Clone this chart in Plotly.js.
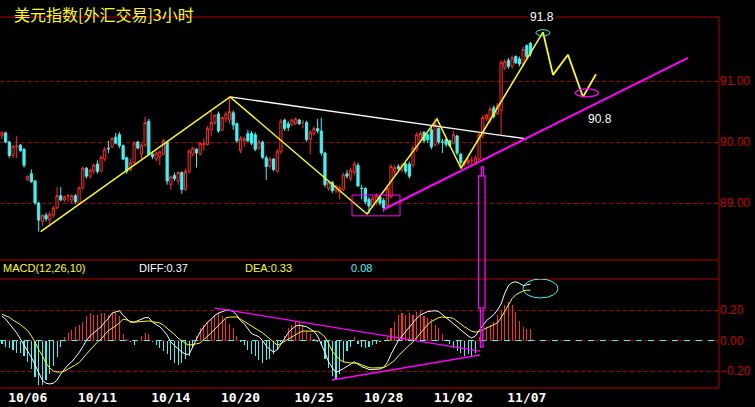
<!DOCTYPE html>
<html><head><meta charset="utf-8">
<script src="https://cdn.plot.ly/plotly-3.0.1.min.js"></script>
<style>html,body{margin:0;padding:0;background:#000;overflow:hidden}#chart{width:755px;height:407px}</style>
</head><body><div id="chart"></div>
<script>
// x-axis date labels (bar index where each label sits)
const tickIdx = [7, 26, 46, 65, 85, 104, 123, 143];
const tickLabels = ['10/06','10/11','10/14','10/20','10/25','10/28','11/02','11/07'];

// 3-hour candles
const open = [90.10,90.15,90.00,89.78,89.92,89.95,89.88,89.38,89.48,89.36,89.00,88.70,88.80,88.72,88.80,88.92,89.12,89.05,89.12,89.05,89.12,88.98,89.25,89.57,89.44,89.52,89.64,89.52,89.72,89.90,89.92,90.08,90.12,89.94,89.74,89.55,89.66,90.00,89.80,89.95,90.34,89.80,89.72,89.76,89.80,90.00,89.30,89.45,89.36,89.50,89.22,89.52,89.80,89.88,89.80,89.96,89.96,90.20,90.32,90.46,90.20,90.38,90.36,90.48,90.30,89.86,90.02,90.14,90.14,90.12,89.90,90.00,89.74,89.60,89.72,89.52,89.84,90.36,90.30,90.28,90.30,90.36,90.32,90.32,90.04,90.14,90.22,90.18,89.82,89.24,89.34,89.20,89.18,89.22,89.48,89.40,89.50,89.62,89.24,89.24,89.06,88.95,89.00,89.10,89.04,88.96,89.10,89.52,89.60,89.54,89.64,89.64,89.62,89.88,90.02,90.16,90.12,90.20,89.96,90.22,90.00,90.04,90.02,89.98,90.10,89.80,89.64,89.66,89.70,89.66,89.72,90.10,90.38,90.36,90.56,90.46,90.52,91.22,91.34,91.24,91.40,91.36,91.28,91.58,91.62];
const high = [90.18,90.17,90.02,89.95,90.10,89.97,89.90,89.45,89.55,89.38,89.02,88.82,88.84,88.86,88.95,89.26,89.26,89.12,89.15,89.14,89.15,89.27,89.60,89.59,89.56,89.65,89.70,89.78,89.92,90.02,90.08,90.15,90.16,89.96,89.76,89.72,90.02,90.02,89.98,90.42,90.38,89.85,89.85,89.86,90.05,90.02,89.45,89.50,89.52,89.52,89.56,89.88,89.92,89.90,90.00,90.06,90.26,90.50,90.45,90.50,90.42,90.50,90.74,90.52,90.32,90.10,90.08,90.20,90.18,90.16,90.04,90.02,89.78,89.76,89.74,89.88,90.38,90.38,90.34,90.38,90.40,90.38,90.36,90.35,90.20,90.26,90.38,90.40,89.84,89.38,89.36,89.30,89.28,89.50,89.54,89.58,89.68,89.66,89.30,89.26,89.10,89.12,89.16,89.14,89.08,89.28,89.64,89.62,89.64,89.66,89.66,89.68,89.94,90.16,90.18,90.18,90.14,90.26,90.38,90.24,90.05,90.06,90.04,90.18,90.12,89.82,89.70,89.74,89.76,89.78,90.16,90.44,90.46,90.58,90.60,90.64,91.34,91.36,91.38,91.42,91.42,91.40,91.56,91.60,91.64];
const low = [90.05,89.98,89.74,89.74,89.74,89.84,89.58,89.36,89.33,88.97,88.53,88.62,88.70,88.65,88.76,88.90,89.03,89.02,89.02,89.00,88.98,88.97,89.22,89.40,89.40,89.48,89.48,89.50,89.68,89.82,89.90,89.96,89.90,89.70,89.48,89.52,89.62,89.88,89.72,89.92,89.78,89.72,89.68,89.62,89.78,89.30,89.22,89.36,89.30,89.15,89.20,89.48,89.76,89.58,89.78,89.86,89.94,90.10,90.28,90.15,90.18,90.32,90.30,90.20,89.98,89.82,89.92,90.00,89.95,89.85,89.86,89.72,89.38,89.56,89.52,89.50,89.80,90.18,90.18,90.26,90.28,90.28,90.22,90.00,89.80,90.10,90.14,89.78,89.26,89.20,89.16,89.16,89.06,89.20,89.40,89.36,89.45,89.26,89.06,88.98,88.82,88.92,88.96,88.96,88.86,88.94,89.08,89.46,89.54,89.50,89.48,89.40,89.58,89.84,89.98,89.98,89.98,89.88,89.92,89.96,89.82,89.92,89.92,89.96,89.78,89.57,89.60,89.62,89.60,89.62,89.70,90.06,90.34,90.30,90.38,90.44,90.10,91.18,91.20,91.20,91.28,91.24,91.24,91.36,91.40];
const close = [90.15,90.00,89.78,89.93,89.93,89.86,89.62,89.44,89.35,89.00,88.72,88.80,88.74,88.82,88.92,89.12,89.05,89.10,89.12,89.12,89.02,89.25,89.57,89.44,89.54,89.62,89.52,89.75,89.88,89.89,90.06,89.98,89.94,89.72,89.52,89.66,89.98,89.90,89.95,90.32,89.80,89.76,89.82,89.84,90.02,89.36,89.43,89.40,89.50,89.22,89.52,89.85,89.90,89.82,89.98,89.97,90.22,90.32,90.44,90.18,90.40,90.46,90.50,90.28,90.02,90.06,90.06,90.02,89.98,89.88,90.00,89.75,89.60,89.72,89.55,89.85,90.34,90.22,90.24,90.36,90.38,90.30,90.32,90.04,90.16,90.22,90.18,89.82,89.30,89.34,89.20,89.28,89.25,89.46,89.44,89.54,89.64,89.28,89.24,89.02,88.95,89.08,89.12,89.00,88.92,89.24,89.60,89.58,89.56,89.62,89.52,89.44,89.90,90.12,90.14,90.02,90.04,89.92,90.30,90.00,90.00,89.96,89.94,90.12,89.82,89.66,89.68,89.70,89.70,89.74,90.12,90.40,90.44,90.54,90.42,90.60,91.30,91.32,91.24,91.38,91.30,91.28,91.52,91.40,91.45];

// MACD(12,26,10) panel values
const diff = [0.16,0.14,0.11,0.08,0.05,0.01,-0.03,-0.07,-0.11,-0.16,-0.21,-0.26,-0.28,-0.285,-0.28,-0.26,-0.22,-0.19,-0.16,-0.14,-0.11,-0.08,-0.04,0.00,0.03,0.05,0.07,0.09,0.12,0.145,0.18,0.19,0.195,0.165,0.14,0.12,0.12,0.13,0.135,0.15,0.15,0.12,0.105,0.09,0.065,0.035,-0.01,-0.035,-0.055,-0.075,-0.09,-0.09,-0.045,0.01,0.056,0.09,0.12,0.14,0.165,0.18,0.19,0.198,0.20,0.19,0.165,0.13,0.11,0.08,0.045,0.035,0.025,0.00,-0.035,-0.06,-0.075,-0.06,-0.025,0.01,0.05,0.075,0.095,0.10,0.095,0.09,0.075,0.06,0.03,-0.02,-0.08,-0.14,-0.18,-0.21,-0.20,-0.185,-0.17,-0.155,-0.14,-0.155,-0.172,-0.18,-0.19,-0.19,-0.19,-0.187,-0.175,-0.145,-0.09,-0.04,0.00,0.03,0.06,0.085,0.115,0.145,0.167,0.18,0.19,0.193,0.195,0.19,0.17,0.15,0.13,0.11,0.09,0.07,0.045,0.03,0.016,0.03,0.065,0.10,0.13,0.15,0.17,0.20,0.24,0.31,0.36,0.38,0.385,0.375,0.36,0.365,0.37];
const dea = [0.172,0.163,0.152,0.134,0.12,0.105,0.085,0.065,0.03,-0.01,-0.06,-0.10,-0.15,-0.18,-0.20,-0.207,-0.207,-0.20,-0.187,-0.175,-0.16,-0.145,-0.12,-0.09,-0.062,-0.035,-0.01,0.01,0.04,0.065,0.08,0.095,0.115,0.14,0.135,0.125,0.12,0.122,0.125,0.127,0.128,0.124,0.12,0.115,0.10,0.08,0.065,0.04,0.015,-0.005,-0.02,-0.03,-0.028,-0.022,-0.016,0.005,0.03,0.05,0.075,0.10,0.125,0.148,0.154,0.154,0.154,0.14,0.125,0.11,0.10,0.08,0.065,0.05,0.03,0.01,-0.01,-0.03,-0.02,-0.005,0.01,0.025,0.04,0.052,0.062,0.062,0.062,0.062,0.06,0.045,0.023,-0.02,-0.07,-0.10,-0.125,-0.14,-0.145,-0.147,-0.148,-0.15,-0.16,-0.17,-0.178,-0.18,-0.18,-0.18,-0.178,-0.165,-0.15,-0.13,-0.10,-0.075,-0.05,-0.03,-0.01,0.02,0.05,0.08,0.105,0.125,0.14,0.15,0.154,0.153,0.15,0.145,0.125,0.105,0.09,0.075,0.06,0.055,0.06,0.07,0.08,0.09,0.10,0.115,0.15,0.19,0.23,0.275,0.30,0.315,0.325,0.33,0.33];
const macd = [-0.02,-0.04,-0.05,-0.06,-0.08,-0.08,-0.10,-0.14,-0.19,-0.24,-0.29,-0.29,-0.26,-0.22,-0.17,-0.11,-0.04,0.02,0.05,0.07,0.09,0.10,0.12,0.16,0.18,0.17,0.17,0.18,0.18,0.17,0.18,0.18,0.16,0.04,0.01,-0.01,-0.03,0.00,0.03,0.05,0.04,-0.01,-0.03,-0.05,-0.07,-0.09,-0.13,-0.15,-0.16,-0.15,-0.12,-0.10,-0.05,0.03,0.08,0.10,0.12,0.14,0.17,0.18,0.16,0.14,0.11,0.08,0.03,-0.01,-0.03,-0.06,-0.09,-0.10,-0.13,-0.15,-0.13,-0.12,-0.09,-0.06,-0.01,0.03,0.08,0.10,0.13,0.12,0.10,0.06,0.04,0.01,-0.01,-0.03,-0.12,-0.18,-0.23,-0.25,-0.22,-0.14,-0.07,-0.04,0.02,-0.02,-0.04,-0.05,-0.04,-0.03,-0.02,-0.01,0.00,0.02,0.08,0.12,0.17,0.18,0.17,0.18,0.17,0.19,0.20,0.16,0.15,0.14,0.10,0.08,0.04,0.01,-0.02,-0.05,-0.07,-0.08,-0.10,-0.09,-0.10,-0.08,0.02,0.06,0.09,0.10,0.12,0.17,0.20,0.23,0.25,0.23,0.19,0.13,0.09,0.075,0.075];

// hand-drawn analysis lines (bar index, price / MACD value)
const zigIdx = [10.54, 62.13, 99.46, 118.53, 125.07, 147.41];
const zigPrice = [88.53, 90.74, 88.82, 90.38, 89.57, 91.80];
const projIdx = [147.41, 150.14, 154.22, 158.31, 161.85];
const projPrice = [91.80, 91.10, 91.43, 90.74, 91.11];
const resIdx = [62.13, 143.05];
const resPrice = [90.74, 90.05];
const supIdx = [103.81, 186.92];
const supPrice = [88.89, 91.38];
const macdUpIdx = [58.04, 130.25];
const macdUpVal = [0.213, -0.069];
const macdLoIdx = [89.92, 130.25];
const macdLoVal = [-0.259, -0.095];
const peakLabel = '91.8', targetLabel = '90.8';

const idx = close.map((_, i) => i);
const RED = '#ff2a2a', CYAN = '#3cf5f5', YEL = '#ffff00', MAG = '#ff00ff';
const GRID = '#a80000', FRAME = '#b40000', TXT = '#c80000';

const traces = [
  {type:'bar', x: idx, y: macd, xaxis:'x', yaxis:'y2', width:0.3,
   marker:{color: macd.map(v => v >= 0 ? RED : CYAN), line:{width:0}}, hoverinfo:'skip'},
  {type:'scatter', mode:'lines', x: idx, y: diff, xaxis:'x', yaxis:'y2', line:{color:'#ffffff', width:1}, hoverinfo:'skip'},
  {type:'scatter', mode:'lines', x: idx, y: dea, xaxis:'x', yaxis:'y2', line:{color:YEL, width:1}, hoverinfo:'skip'},
  {type:'scatter', mode:'lines', x: macdUpIdx, y: macdUpVal, xaxis:'x', yaxis:'y2', line:{color:MAG, width:1.3}, hoverinfo:'skip'},
  {type:'scatter', mode:'lines', x: macdLoIdx, y: macdLoVal, xaxis:'x', yaxis:'y2', line:{color:MAG, width:1.3}, hoverinfo:'skip'},
  {type:'candlestick', x: idx, open, high, low, close, xaxis:'x', yaxis:'y',
   increasing:{line:{color:RED, width:1}, fillcolor:'#000000'},
   decreasing:{line:{color:CYAN, width:1}, fillcolor:CYAN},
   whiskerwidth:0, hoverinfo:'skip'},
  {type:'scatter', mode:'lines', x: resIdx, y: resPrice, xaxis:'x', yaxis:'y', line:{color:'#ffffff', width:1.3}, hoverinfo:'skip'},
  {type:'scatter', mode:'lines', x: supIdx, y: supPrice, xaxis:'x', yaxis:'y', line:{color:MAG, width:2}, hoverinfo:'skip'},
  {type:'scatter', mode:'lines', x: zigIdx, y: zigPrice, xaxis:'x', yaxis:'y', line:{color:YEL, width:1.5}, hoverinfo:'skip'},
  {type:'scatter', mode:'lines', x: projIdx, y: projPrice, xaxis:'x', yaxis:'y', line:{color:YEL, width:1.8}, hoverinfo:'skip'}
];

const axFont = {family:'Liberation Sans, Arial, sans-serif', size:12, color:TXT};
const layout = {
  width:755, height:407, paper_bgcolor:'#000', plot_bgcolor:'#000',
  margin:{l:0, r:36, t:17, b:19}, showlegend:false, bargap:0, boxgap:0.15,
  xaxis:{range:[-0.545, 195.37], anchor:'y2', showgrid:false, zeroline:false, showline:false,
    tickvals: tickIdx, ticktext: tickLabels, ticks:'',
    tickfont:{family:'DejaVu Sans Mono, monospace', size:13, color:'#ffffff', weight:'bold'},
    rangeslider:{visible:false}, fixedrange:true},
  yaxis:{domain:[0.345, 1], range:[88.066, 92.049], side:'right', anchor:'x',
    tickvals:[89, 90, 91], tickformat:'.2f', ticks:'', tickfont:axFont,
    showgrid:true, gridcolor:GRID, griddash:'4px,3px', gridwidth:1, zeroline:false, showline:false, fixedrange:true},
  yaxis2:{domain:[0, 0.2938], range:[-0.3115, 0.4033], side:'right', anchor:'x',
    tickvals:[-0.2, 0, 0.2], tickformat:'.2f', ticks:'', tickfont:axFont,
    showgrid:true, gridcolor:GRID, griddash:'4px,3px', gridwidth:1, zeroline:false, showline:false, fixedrange:true},
  shapes:[
    {type:'line', xref:'x', yref:'y2', x0:-0.545, x1:195.37, y0:0, y1:0, line:{color:CYAN, width:1, dash:'6px,6px'}},
    {type:'line', xref:'paper', yref:'paper', x0:0, x1:1, y0:1, y1:1, line:{color:FRAME, width:1}},
    {type:'line', xref:'paper', yref:'paper', x0:0, x1:1, y0:0.345, y1:0.345, line:{color:FRAME, width:1}},
    {type:'line', xref:'paper', yref:'paper', x0:0, x1:1, y0:0.2938, y1:0.2938, line:{color:FRAME, width:1}},
    {type:'line', xref:'paper', yref:'paper', x0:0, x1:1, y0:0, y1:0, line:{color:FRAME, width:1}},
    {type:'line', xref:'paper', yref:'paper', x0:1, x1:1, y0:0, y1:1, line:{color:FRAME, width:1}},
    {type:'rect', xref:'x', yref:'y', x0:95.37, x1:108.45, y0:88.79, y1:89.13, line:{color:MAG, width:1}},
    {type:'circle', xref:'x', yref:'y', x0:145.5, x1:149.3, y0:91.74, y1:91.84, line:{color:CYAN, width:1}},
    {type:'circle', xref:'x', yref:'y', x0:156.27, x1:162.53, y0:90.74, y1:90.87, line:{color:MAG, width:1.3}},
    {type:'circle', xref:'x', yref:'y2', x0:141.96, x1:151.5, y0:0.279, y1:0.403, line:{color:CYAN, width:1}},
    {type:'path', xref:'x', yref:'paper', layer:'above', line:{color:MAG, width:1.3},
     path:'M130.65,0.5957 L131.2,0.5957 L131.2,0.5714 L131.61,0.5714 L131.61,0.2156 L131.06,0.2156 L131.06,0.1105 L130.38,0.1105 L130.38,0.2156 L129.84,0.2156 L129.84,0.5714 L130.65,0.5714 Z'}
  ],
  annotations:[
    {xref:'paper', yref:'paper', x:0.016, y:1.046, xanchor:'left', yanchor:'top', showarrow:false,
     text:'美元指数[外汇交易]3小时', font:{family:'Noto Sans CJK SC, sans-serif', size:16, color:YEL}},
    {xref:'paper', yref:'paper', x:0.002, y:0.3235, xanchor:'left', yanchor:'middle', showarrow:false,
     text:'MACD(12,26,10)', font:{family:'Liberation Sans, Arial, sans-serif', size:11, color:YEL}},
    {xref:'paper', yref:'paper', x:0.191, y:0.3235, xanchor:'left', yanchor:'middle', showarrow:false,
     text:'DIFF:' + diff[diff.length-1].toFixed(2), font:{family:'Liberation Sans, Arial, sans-serif', size:11, color:'#ffffff'}},
    {xref:'paper', yref:'paper', x:0.338, y:0.3235, xanchor:'left', yanchor:'middle', showarrow:false,
     text:'DEA:' + dea[dea.length-1].toFixed(2), font:{family:'Liberation Sans, Arial, sans-serif', size:11, color:YEL}},
    {xref:'paper', yref:'paper', x:0.485, y:0.3235, xanchor:'left', yanchor:'middle', showarrow:false,
     text: '0.08', font:{family:'Liberation Sans, Arial, sans-serif', size:11, color:CYAN}},
    {xref:'x', yref:'paper', x:147.1, y:1, xanchor:'center', yanchor:'middle', showarrow:false, bgcolor:'#000',
     text: peakLabel, font:{family:'Liberation Sans, Arial, sans-serif', size:12, color:'#ffffff'}},
    {xref:'x', yref:'y', x:162.9, y:90.37, xanchor:'center', yanchor:'middle', showarrow:false,
     text: targetLabel, font:{family:'Liberation Sans, Arial, sans-serif', size:12, color:'#ffffff'}}
  ]
};
Plotly.newPlot('chart', traces, layout, {staticPlot:true, displayModeBar:false});
</script>
</body></html>
